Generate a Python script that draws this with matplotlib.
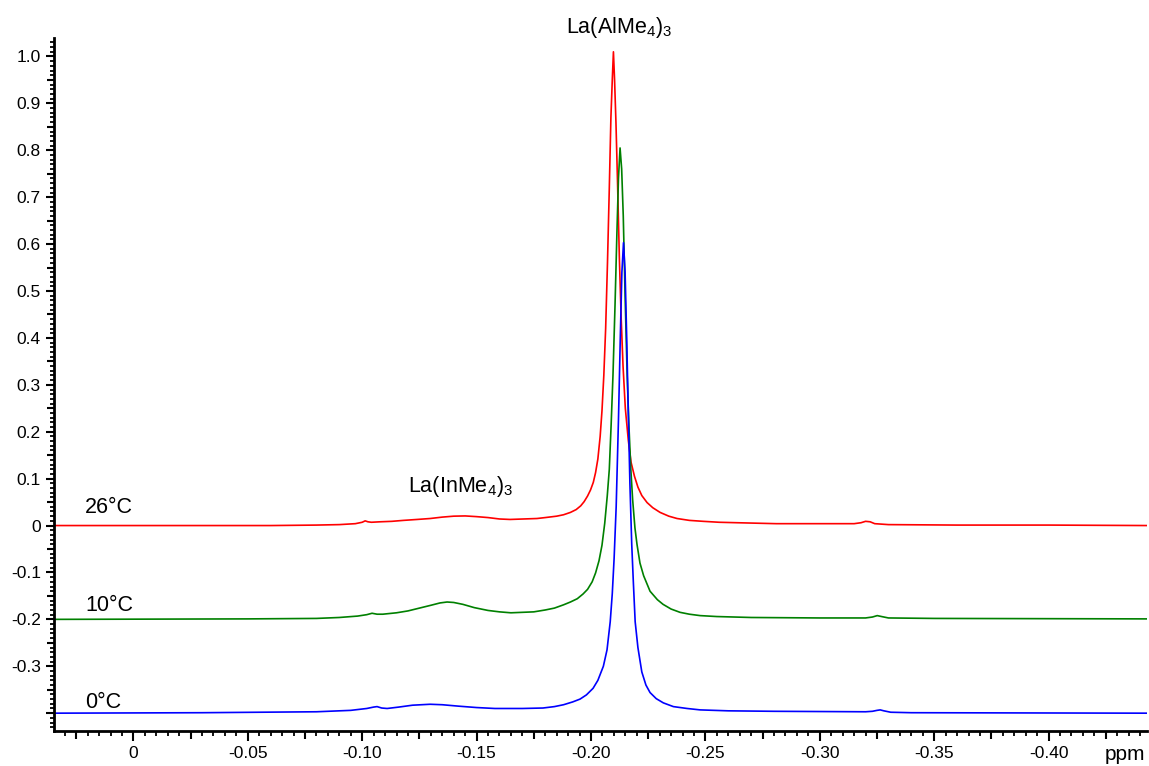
import matplotlib
matplotlib.use("Agg")
import matplotlib.pyplot as plt
from matplotlib.ticker import FixedLocator, MultipleLocator, FuncFormatter

plt.rcParams['font.family'] = ['Liberation Sans', 'DejaVu Sans']
plt.rcParams['mathtext.default'] = 'regular'

# 1H NMR traces (ppm, intensity), stacked with vertical offsets
ppm_26 = [0.035, -0.060, -0.080, -0.090, -0.097, -0.1000, -0.1013, -0.1025, -0.1040,
          -0.1078, -0.1130, -0.1180, -0.1240, -0.1297, -0.1350, -0.1400, -0.1450,
          -0.1500, -0.1550, -0.1600, -0.1646, -0.1705, -0.1764, -0.1800, -0.1850,
          -0.1880, -0.1910, -0.1935, -0.1955, -0.1970, -0.1985, -0.1998, -0.2010,
          -0.2020, -0.2030, -0.2040, -0.2048, -0.2056, -0.2064, -0.2072, -0.2080,
          -0.2087, -0.2093, -0.2098, -0.2103, -0.2109, -0.2116, -0.2124, -0.2132,
          -0.2140, -0.2150, -0.2163, -0.2175, -0.2190, -0.2205, -0.2222, -0.2245,
          -0.2270, -0.2302, -0.2340, -0.2376, -0.2430, -0.2490, -0.2560, -0.2640,
          -0.2810, -0.3000, -0.3150, -0.3180, -0.3200, -0.3220, -0.3240, -0.3300,
          -0.3600, -0.4000, -0.4430]
int_26 = [0.000, 0.000, 0.001, 0.002, 0.004, 0.007, 0.010, 0.008, 0.007,
          0.008, 0.009, 0.011, 0.013, 0.015, 0.018, 0.020, 0.0205,
          0.019, 0.017, 0.014, 0.013, 0.014, 0.015, 0.017, 0.020,
          0.023, 0.028, 0.034, 0.042, 0.051, 0.063, 0.076, 0.092,
          0.113, 0.142, 0.190, 0.245, 0.320, 0.420, 0.560, 0.720,
          0.870, 0.950, 1.010, 0.950, 0.860, 0.730, 0.570, 0.440,
          0.340, 0.250, 0.182, 0.135, 0.105, 0.082, 0.064, 0.049,
          0.038, 0.028, 0.020, 0.015, 0.011, 0.009, 0.007, 0.006,
          0.004, 0.004, 0.004, 0.006, 0.009, 0.008, 0.004, 0.002,
          0.001, 0.001, 0.000]

ppm_10 = [0.035, -0.050, -0.080, -0.090, -0.098, -0.1020, -0.1043, -0.1065, -0.1090,
          -0.1150, -0.1200, -0.1250, -0.1300, -0.1340, -0.1371, -0.1400, -0.1440,
          -0.1490, -0.1550, -0.1600, -0.1650, -0.1700, -0.1750, -0.1800, -0.1840,
          -0.1880, -0.1910, -0.1940, -0.1965, -0.1985, -0.2005, -0.2020, -0.2035,
          -0.2048, -0.2060, -0.2071, -0.2080, -0.2088, -0.2096, -0.2105, -0.2113,
          -0.2120, -0.2127, -0.2134, -0.2141, -0.2149, -0.2158, -0.2166, -0.2174,
          -0.2182, -0.2192, -0.2201, -0.2214, -0.2230, -0.2258, -0.2290, -0.2315,
          -0.2350, -0.2389, -0.2430, -0.2477, -0.2550, -0.2700, -0.3000, -0.3200,
          -0.3230, -0.3251, -0.3270, -0.3300, -0.3500, -0.4430]
int_10 = [-0.200, -0.199, -0.198, -0.196, -0.193, -0.190, -0.187, -0.189, -0.189,
          -0.186, -0.182, -0.176, -0.170, -0.165, -0.163, -0.164, -0.168,
          -0.175, -0.181, -0.184, -0.186, -0.185, -0.184, -0.180, -0.176,
          -0.169, -0.163, -0.156, -0.146, -0.136, -0.120, -0.101, -0.075,
          -0.042, 0.005, 0.063, 0.120, 0.215, 0.320, 0.470, 0.620,
          0.740, 0.805, 0.760, 0.660, 0.490, 0.320, 0.210, 0.120,
          0.055, -0.005, -0.040, -0.080, -0.107, -0.140, -0.158, -0.168,
          -0.178, -0.185, -0.189, -0.192, -0.194, -0.196, -0.197, -0.197,
          -0.195, -0.192, -0.194, -0.197, -0.198, -0.199]

ppm_0 = [0.035, -0.030, -0.080, -0.095, -0.1020, -0.1050, -0.1065, -0.1085, -0.1109,
         -0.1160, -0.1220, -0.1297, -0.1350, -0.1420, -0.1500, -0.1580, -0.1700,
         -0.1790, -0.1840, -0.1880, -0.1920, -0.1952, -0.1980, -0.2009, -0.2030,
         -0.2054, -0.2070, -0.2084, -0.2093, -0.2101, -0.2110, -0.2120, -0.2128,
         -0.2135, -0.2142, -0.2149, -0.2156, -0.2163, -0.2170, -0.2178, -0.2185,
         -0.2193, -0.2205, -0.2222, -0.2240, -0.2258, -0.2285, -0.2316, -0.2360,
         -0.2420, -0.2477, -0.2600, -0.2800, -0.3200, -0.3230, -0.3250, -0.3264,
         -0.3280, -0.3310, -0.3400, -0.4430]
int_0 = [-0.400, -0.399, -0.397, -0.394, -0.390, -0.387, -0.386, -0.389, -0.390,
         -0.387, -0.383, -0.381, -0.382, -0.385, -0.388, -0.390, -0.390,
         -0.389, -0.386, -0.382, -0.376, -0.370, -0.361, -0.347, -0.330,
         -0.300, -0.265, -0.205, -0.145, -0.070, 0.040, 0.225, 0.400,
         0.540, 0.603, 0.540, 0.400, 0.240, 0.090, -0.040, -0.120,
         -0.205, -0.260, -0.312, -0.340, -0.356, -0.369, -0.378, -0.386,
         -0.390, -0.393, -0.395, -0.396, -0.397, -0.396, -0.394, -0.393,
         -0.395, -0.398, -0.399, -0.400]

trace_labels = ['26°C', '10°C', '0°C']
trace_label_y = [0.027, -0.182, -0.389]
trace_colors = ['#ff0000', '#008000', '#0000ff']

x_ticks = [0.0, -0.05, -0.10, -0.15, -0.20, -0.25, -0.30, -0.35, -0.40]
y_ticks = [1.0, 0.9, 0.8, 0.7, 0.6, 0.5, 0.4, 0.3, 0.2, 0.1, 0.0, -0.1, -0.2, -0.3, -0.4]

W, H = 1149, 766
fig = plt.figure(figsize=(W / 100, H / 100), dpi=100)
ax = fig.add_axes([54 / W, 1 - 731 / H, (1147 - 54) / W, (731 - 38) / H])

for xs, ys, c in zip([ppm_26, ppm_10, ppm_0], [int_26, int_10, int_0], trace_colors):
    ax.plot(xs, ys, color=c, lw=1.2, solid_joinstyle='round')

ax.set_xlim(0.0347, -0.443)
ax.set_ylim(-0.438, 1.0394)

for s in ['top', 'right']:
    ax.spines[s].set_visible(False)
for s in ['left', 'bottom']:
    ax.spines[s].set_linewidth(2.0)

# x axis: labelled ticks every 0.05, mid ticks at 0.025, minor every 0.005
ax.xaxis.set_major_locator(FixedLocator(x_ticks))
ax.xaxis.set_major_formatter(FuncFormatter(lambda v, p: '0' if abs(v) < 1e-9 else f'{v:.2f}'))
ax.xaxis.set_minor_locator(MultipleLocator(0.005))
ax.tick_params(axis='x', which='major', length=7.0, width=1.5, labelsize=12.5, pad=4)
ax.tick_params(axis='x', which='minor', length=3.5, width=1.3)

# y axis: labelled ticks every 0.1, mid ticks at 0.05, minor every 0.01
ax.yaxis.set_major_locator(FixedLocator(y_ticks))
ax.yaxis.set_major_formatter(FuncFormatter(
    lambda v, p: '' if v < -0.35 else ('0' if abs(v) < 1e-9 else f'{v:.1f}')))
ax.yaxis.set_minor_locator(MultipleLocator(0.01))
ax.tick_params(axis='y', which='major', length=5.5, width=1.5, labelsize=12.5, pad=4)
ax.tick_params(axis='y', which='minor', length=3.0, width=1.3)

secx = ax.secondary_xaxis('bottom')
secx.spines['bottom'].set_visible(False)
secx.xaxis.set_major_locator(FixedLocator([v - 0.025 for v in [0.05] + x_ticks]))
secx.tick_params(axis='x', which='major', length=5.5, width=1.5, labelbottom=False)
secx.xaxis.set_minor_locator(FixedLocator([]))

secy = ax.secondary_yaxis('left')
secy.spines['left'].set_visible(False)
secy.yaxis.set_major_locator(FixedLocator([v + 0.05 for v in y_ticks]))
secy.tick_params(axis='y', which='major', length=5.0, width=1.5, labelleft=False)
secy.yaxis.set_minor_locator(FixedLocator([]))

fig.text(1145 / W, 1 - 745 / H, 'ppm', ha='right', va='top', fontsize=15)

for lab, ly in zip(trace_labels, trace_label_y):
    ax.text(0.0211, ly, lab, fontsize=15.5, ha='left', va='baseline')

ax.text(-0.1201, 0.071, r'La(InMe$_4$)$_3$', fontsize=15.5, ha='left', va='baseline')
ax.text(-0.1891, 1.049, r'La(AlMe$_4$)$_3$', fontsize=15.5, ha='left', va='baseline',
        clip_on=False)

fig.savefig('out.png', dpi=100)
